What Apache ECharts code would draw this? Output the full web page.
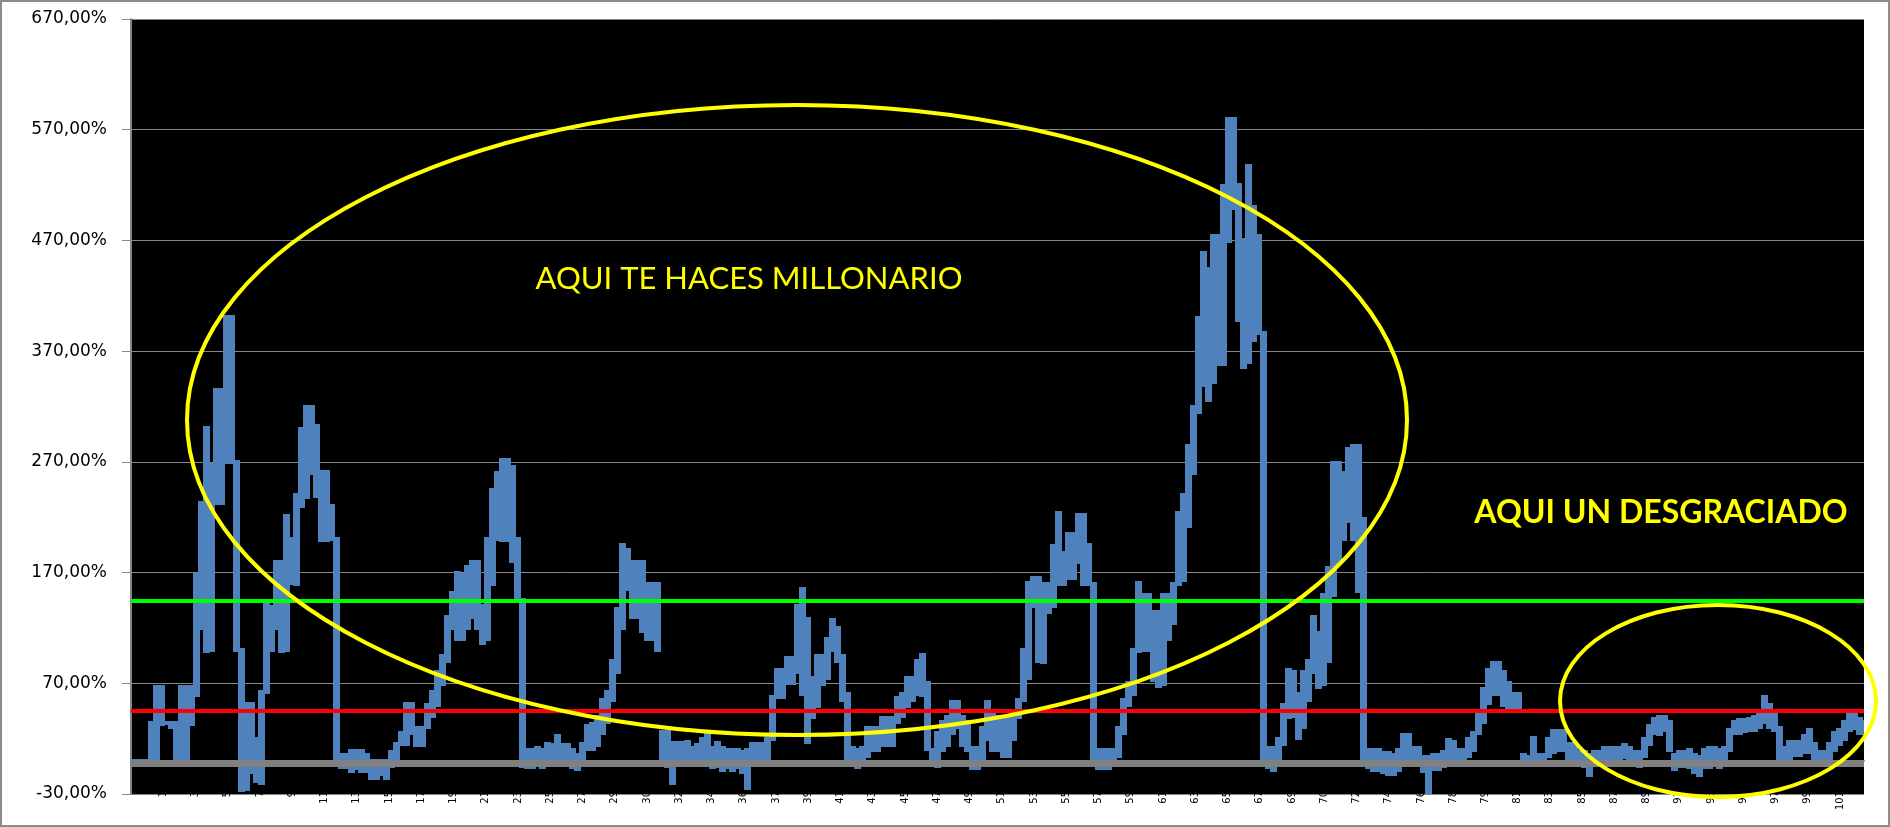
<!DOCTYPE html>
<html><head><meta charset="utf-8">
<script src="https://cdn.jsdelivr.net/npm/echarts/dist/echarts.min.js"></script>
<style>html,body{margin:0;padding:0;background:#fff}#c{width:1890px;height:827px}</style>
</head><body><div id="c"></div>
<script>
// Daily band of the series (%) left to right:
// upper and lower edge of the trace in each narrow time slice
const upper = [
0,0,0,0,34,67,67,34,34,34,
67,67,67,168,233,301,267,335,335,401,
401,270,100,51,51,20,62,141,139,180,
180,221,200,240,300,320,320,302,261,261,
230,200,5,5,9,9,9,5,0,0,
0,0,8,15,25,51,51,30,30,50,
62,80,95,130,152,170,168,175,180,180,
140,200,245,260,272,272,265,200,145,10,
10,12,10,15,14,22,14,14,10,5,
15,31,33,40,55,62,90,137,195,190,
180,180,180,160,160,160,26,26,16,16,
16,17,12,14,20,23,12,16,12,10,
10,10,8,10,15,15,15,20,58,82,
82,93,93,140,155,128,75,95,95,110,
127,120,95,60,12,10,12,30,30,30,
39,39,39,57,60,75,75,90,96,70,
10,25,35,40,53,53,40,35,12,12,
30,53,45,40,40,40,45,55,100,161,
165,165,160,160,194,224,188,205,205,222,
222,195,160,10,10,10,10,30,55,70,
100,161,150,150,134,134,150,150,160,224,
240,284,320,400,459,444,474,474,519,580,
580,520,470,537,500,474,386,12,12,20,
50,82,80,60,80,90,130,115,150,174,
269,269,260,282,284,284,218,10,10,10,
7,7,5,10,23,23,12,12,3,3,
5,5,8,19,17,10,10,20,25,45,
65,82,88,88,80,70,60,60,5,3,
21,5,5,20,27,27,27,15,15,8,
8,5,8,8,12,12,12,12,14,12,
8,8,20,31,38,40,40,35,5,8,
8,10,5,3,10,12,12,10,12,28,
35,37,37,38,40,42,58,50,43,30,
12,17,17,17,22,28,15,8,8,15,
25,28,35,43,44,38,35
];
const lower = [
0,0,0,0,0,0,34,34,30,0,
0,0,34,60,120,100,100,233,233,270,
270,100,-26,-26,-10,-18,-20,62,100,120,
100,100,160,160,230,239,260,239,200,200,
200,-2,-6,-6,-9,-6,-9,-9,-15,-15,
-12,-15,-5,0,15,15,25,15,15,30,
40,50,70,90,120,110,110,120,130,120,
107,110,160,200,200,200,180,145,-5,-5,
-5,-3,-5,-3,-3,0,-3,-3,-5,-8,
-3,10,10,15,25,35,55,80,120,155,
130,130,118,110,110,100,-3,-5,-20,-3,
-3,-3,-3,-3,-3,0,-5,-5,-8,-5,
-8,-5,-10,-24,0,0,0,0,20,58,
58,70,70,80,60,17,40,50,70,75,
100,90,55,0,-3,-5,-3,5,10,10,
15,15,15,35,40,50,55,60,60,10,
-3,-5,10,15,25,30,15,10,-6,-6,
0,20,10,10,5,5,20,40,55,75,
140,90,90,135,140,160,160,165,165,180,
160,160,0,-6,-6,-6,-3,5,25,50,
60,100,100,100,73,67,70,110,125,160,
163,212,260,315,340,326,342,358,358,470,
500,398,355,360,380,386,-2,-5,-8,0,
15,40,40,20,30,55,80,66,70,90,
150,180,200,217,200,153,-2,-5,-8,-8,
-10,-12,-12,-8,0,0,-3,-3,-10,-29,
-8,-8,-5,0,0,0,-3,5,10,25,
35,52,60,60,50,45,45,48,-3,-3,
0,-2,-2,5,8,10,10,2,2,-3,
-5,-13,-2,-2,2,2,2,3,3,2,
-3,-5,5,15,25,25,28,10,-8,-5,
-5,-5,-10,-13,-5,-5,-3,-5,-3,10,
25,25,27,28,28,30,35,30,28,0,
0,3,5,5,8,8,2,0,0,0,
10,15,20,28,30,25,25
];
// x-axis tick labels (rotated, as in the picture)
const xTickLabels = ['1','3','5','7','9','11','13','15','17','19','21','23','25','27','29',
'30','32','34','36','37','39','41','43','45','47','49','51','53','55','57','59',
'61','63','65','67','69','70','72','74','76','78','79','81','83','85','87','89',
'91','93','95','97','99','101'];
// reference lines (%)
const greenLevel = 145;
const redLevel = 45;
const grayLevel = -2;
const titleRich = 'AQUI TE HACES MILLONARIO';
const titlePoor = 'AQUI UN DESGRACIADO';

const slots = upper.map((_, i) => String(i + 1));
const bandData = upper.map((u, i) => [i, u, lower[i]]);

const chart = echarts.init(document.getElementById('c'), null, {renderer: 'canvas'});
const fmtY = v => v.toFixed(2).replace('.', ',') + '%';

function renderBand(params, api) {
  const i = api.value(0);
  const top = api.coord([i, api.value(1)]);
  const bot = api.coord([i, api.value(2)]);
  const next = api.coord([Math.min(i + 1, upper.length - 1), api.value(1)]);
  const prev = api.coord([Math.max(i - 1, 0), api.value(1)]);
  const step = Math.max(next[0] - top[0], top[0] - prev[0]);
  const half = 2; // half of the trace thickness
  const x0 = Math.floor(top[0] - step / 2);
  const x1 = Math.ceil(top[0] + step / 2) + 1;
  return {
    type: 'rect',
    shape: {x: x0, y: Math.round(top[1] - half), width: x1 - x0, height: Math.round((bot[1] - top[1]) + 2 * half)},
    style: {fill: '#4F81BD', stroke: null}
  };
}

chart.setOption({
  animation: false,
  backgroundColor: '#fff',
  grid: {left: 131, right: 26, top: 19, bottom: 33, show: true, backgroundColor: '#000', borderWidth: 0},
  xAxis: [
    {type: 'category', data: slots, boundaryGap: false,
     axisLine: {show: true, lineStyle: {color: '#868686', width: 2}},
     axisTick: {show: false}, axisLabel: {show: false}, splitLine: {show: false}},
    {type: 'value', min: 0, max: 53.74, interval: 1, position: 'bottom',
     axisLine: {show: false}, axisTick: {show: false}, splitLine: {show: false},
     axisLabel: {rotate: 90, margin: -3, fontSize: 10, fontFamily: 'DejaVu Sans', color: '#000',
       formatter: v => { const k = Math.round(v); return (Math.abs(v - k) < 1e-6 && k >= 1 && k <= xTickLabels.length) ? xTickLabels[k - 1] : ''; }}}
  ],
  yAxis: {type: 'value', min: -30, max: 670, interval: 100,
    axisLine: {show: true, lineStyle: {color: '#868686', width: 2}},
    axisTick: {show: true, length: 9, lineStyle: {color: '#868686', width: 1}},
    splitLine: {show: true, lineStyle: {color: '#868686', width: 1}},
    axisLabel: {margin: 24, fontSize: 17, fontFamily: 'DejaVu Sans', color: '#000', formatter: fmtY}},
  series: [
    {name: 'base', type: 'line', data: [], z: 1, silent: true,
     markLine: {silent: true, symbol: ['none', 'none'], label: {show: false},
       lineStyle: {color: '#808080', width: 7, type: 'solid'}, data: [{yAxis: grayLevel}]}},
    {name: 'valor', type: 'custom', data: bandData, z: 2, clip: true, silent: true,
     encode: {x: 0, y: [1, 2]}, renderItem: renderBand},
    {name: 'niveles', type: 'line', data: [], z: 3, silent: true,
     markLine: {silent: true, symbol: ['none', 'none'], label: {show: false},
       data: [
         {yAxis: greenLevel, lineStyle: {color: '#00FF00', width: 4, type: 'solid'}},
         {yAxis: redLevel, lineStyle: {color: '#FF0000', width: 4, type: 'solid'}}
       ]}}
  ],
  graphic: [
    {type: 'rect', z: 100, shape: {x: 1, y: 1, width: 1888, height: 825}, style: {fill: 'none', stroke: '#8c8c8c', lineWidth: 2}},
    {type: 'ellipse', z: 100, shape: {cx: 797, cy: 420, rx: 610, ry: 315}, style: {fill: 'none', stroke: '#FFFF00', lineWidth: 4}},
    {type: 'ellipse', z: 100, shape: {cx: 1718, cy: 701, rx: 158, ry: 96}, style: {fill: 'none', stroke: '#FFFF00', lineWidth: 4}},
    {type: 'text', z: 100, style: {x: 749, y: 279, text: titleRich, fill: '#FFFF00', font: '31px Lato',
      textAlign: 'center', textVerticalAlign: 'middle', align: 'center', verticalAlign: 'middle'}},
    {type: 'text', z: 100, style: {x: 1661, y: 513, text: titlePoor, fill: '#FFFF00', font: 'bold 32px Lato',
      textAlign: 'center', textVerticalAlign: 'middle', align: 'center', verticalAlign: 'middle'}}
  ]
});
</script></body></html>
